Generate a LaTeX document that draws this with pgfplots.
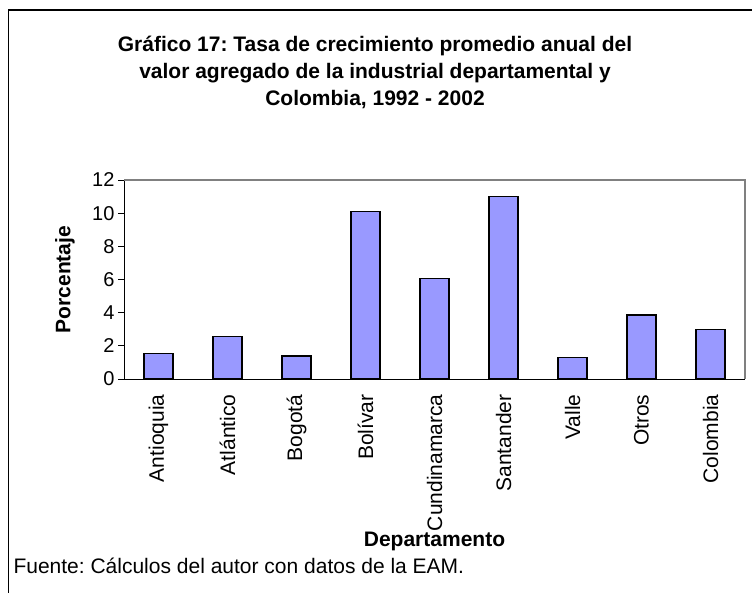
\documentclass[border=0pt]{standalone}
\usepackage{pgfplots}
\pgfplotsset{compat=1.18}
\usepackage{fontspec}
\setmainfont{Liberation Sans}
\frenchspacing
\definecolor{barfill}{HTML}{9999FF}
\definecolor{frameline}{HTML}{808080}

\begin{document}
\begin{tikzpicture}[x=1pt,y=1pt]
\useasboundingbox (0,0) rectangle (752,592);
% outer chart frame (only top and left edges fall inside the picture)
\draw[line width=1.5pt] (8.5,-5) -- (8.5,582) -- (760,582);
\node[font=\fontsize{21}{27}\selectfont\bfseries, align=center] at (375,520)
  {Gráfico 17: Tasa de crecimiento promedio anual del\\
   valor agregado de la industrial departamental y\\
   Colombia, 1992 - 2002};
\begin{axis}[
    at={(124pt,213pt)}, anchor=south west,
    scale only axis, width=621pt, height=199pt,
    ybar, bar width=29pt,
    xmin=-0.5, xmax=8.5, ymin=0, ymax=12,
    ytick={0,2,...,12},
    xtick={0,...,8},
    xticklabels={Antioquia, Atlántico, Bogotá, Bolívar, Cundinamarca,
                 Santander, Valle, Otros, Colombia},
    x tick style={draw=none},
    minor xtick={-0.5,0.5,...,8.5},
    tick align=outside, major tick length=6pt, minor tick length=6pt,
    y tick style={black, line width=0.8pt},
    minor x tick style={black, line width=0.8pt},
    axis x line*=bottom, axis y line*=left,
    axis line style={black, line width=1pt, -},
    x tick label style={rotate=90, anchor=east, font=\fontsize{21}{24}\selectfont},
    xticklabel shift=6pt,
    y tick label style={font=\fontsize{20}{23}\selectfont},
    /pgf/number format/assume math mode=true,
    xlabel={Departamento}, ylabel={Porcentaje},
    label style={font=\fontsize{21}{24}\selectfont\bfseries},
    xlabel style={at={(axis description cs:0.5,-0.815)}, anchor=center},
    ylabel style={at={(axis description cs:-0.095,0.5)}, anchor=center, rotate=0},
    clip=false,
]
\draw[frameline, line width=1.2pt] (rel axis cs:0,1) -- (rel axis cs:1,1) -- (rel axis cs:1,0);
\addplot[fill=barfill, draw=black, line width=1.5pt]
  coordinates {(0,1.55) (1,2.55) (2,1.4) (3,10.1) (4,6.05) (5,11.0) (6,1.3) (7,3.85) (8,3.0)};
\end{axis}
\node[anchor=west, font=\fontsize{21}{24}\selectfont] at (10,26)
  {Fuente: Cálculos del autor con datos de la EAM.};
\end{tikzpicture}
\end{document}
